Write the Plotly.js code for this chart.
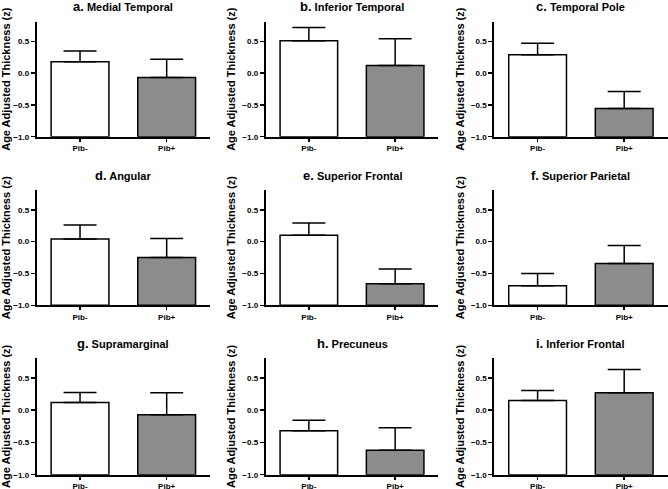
<!DOCTYPE html>
<html>
<head>
<meta charset="utf-8">
<script src="https://cdn.plot.ly/plotly-3.0.1.min.js"></script>
<style>html,body{margin:0;padding:0;background:#fff;}#chart{width:668px;height:489px;}</style>
</head>
<body>
<div id="chart"></div>
<script>
// ---- data ----
const categories = ['Pib-', 'Pib+'];
const panelLetters = ['a', 'b', 'c', 'd', 'e', 'f', 'g', 'h', 'i'];
const regionNames = ['Medial Temporal', 'Inferior Temporal', 'Temporal Pole',
  'Angular', 'Superior Frontal', 'Superior Parietal',
  'Supramarginal', 'Precuneus', 'Inferior Frontal'];
const meanPibNeg = [0.18, 0.51, 0.29, 0.04, 0.10, -0.695, 0.12, -0.32, 0.15];
const meanPibPos = [-0.07, 0.12, -0.555, -0.25, -0.66, -0.345, -0.07, -0.62, 0.27];
const semPibNeg = [0.17, 0.21, 0.18, 0.22, 0.19, 0.195, 0.155, 0.165, 0.155];
const semPibPos = [0.29, 0.42, 0.265, 0.30, 0.23, 0.285, 0.34, 0.35, 0.36];
const yTickVals = [-1.0, -0.5, 0.0, 0.5];
const yTitle = 'Age Adjusted Thickness (z)';
const baseline = -1.0;
const yTop = 0.81;

// ---- layout geometry (pixels) ----
const W = 668, H = 489;
const colX = [[36.7, 210], [265.7, 438.3], [494.3, 667.5]];
const rowY = [[21.7, 136.7], [190, 305.3], [358, 474.7]];
const titleY = [6, 175, 343.3];
const barColors = ['#ffffff', '#8c8c8c'];

const traces = [];
const layout = {
  width: W, height: H,
  margin: {l: 0, r: 0, t: 0, b: 0},
  paper_bgcolor: '#ffffff', plot_bgcolor: '#ffffff',
  showlegend: false,
  font: {family: 'Arial, Liberation Sans, sans-serif', color: '#000'},
  annotations: []
};

for (let i = 0; i < 9; i++) {
  const r = Math.floor(i / 3), c = i % 3;
  const n = i + 1;
  const xa = n === 1 ? 'x' : 'x' + n;
  const ya = n === 1 ? 'y' : 'y' + n;
  const means = [meanPibNeg[i], meanPibPos[i]];
  const sems = [semPibNeg[i], semPibPos[i]];
  traces.push({
    type: 'bar',
    x: categories,
    y: means.map(v => v - baseline),
    base: baseline,
    width: 0.667,
    xaxis: xa, yaxis: ya,
    marker: {color: barColors, line: {color: '#000', width: 1.5}},
    error_y: {type: 'data', symmetric: false, array: sems, arrayminus: [0, 0],
      color: '#000', thickness: 1.5, width: 16.5},
    hoverinfo: 'skip'
  });
  const xd = [colX[c][0] / W, colX[c][1] / W];
  const yd = [1 - rowY[r][1] / H, 1 - rowY[r][0] / H];
  layout['xaxis' + (n === 1 ? '' : n)] = {
    domain: xd, anchor: ya, type: 'category', range: [-0.5, 1.5],
    showline: true, linewidth: 2, linecolor: '#000',
    ticks: 'outside', ticklen: 3, tickwidth: 1.5, tickcolor: '#000',
    tickfont: {size: 8, weight: 'bold', family: 'Arial, Liberation Sans, sans-serif'},
    showgrid: false, zeroline: false, fixedrange: true
  };
  layout['yaxis' + (n === 1 ? '' : n)] = {
    domain: yd, anchor: xa, range: [baseline, yTop],
    tickvals: yTickVals, tickformat: '.1f',
    showline: true, linewidth: 2, linecolor: '#000',
    ticks: 'outside', ticklen: 4, tickwidth: 1.5, tickcolor: '#000',
    tickfont: {size: 8, weight: 'bold', family: 'Arial, Liberation Sans, sans-serif'},
    showgrid: false, zeroline: false, fixedrange: true,
    title: {text: yTitle, standoff: 4,
      font: {size: 11, weight: 'bold', family: 'Arial, Liberation Sans, sans-serif'}}
  };
  layout.annotations.push({
    xref: 'paper', yref: 'paper',
    x: (xd[0] + xd[1]) / 2, y: 1 - titleY[r] / H,
    xanchor: 'center', yanchor: 'middle', showarrow: false,
    text: '<b><span style="font-size:13px">' + panelLetters[i] + '.</span> ' + regionNames[i] + '</b>',
    font: {size: 11, family: 'Arial, Liberation Sans, sans-serif', color: '#000'}
  });
}

Plotly.newPlot('chart', traces, layout, {staticPlot: true, displayModeBar: false});
</script>
</body>
</html>
